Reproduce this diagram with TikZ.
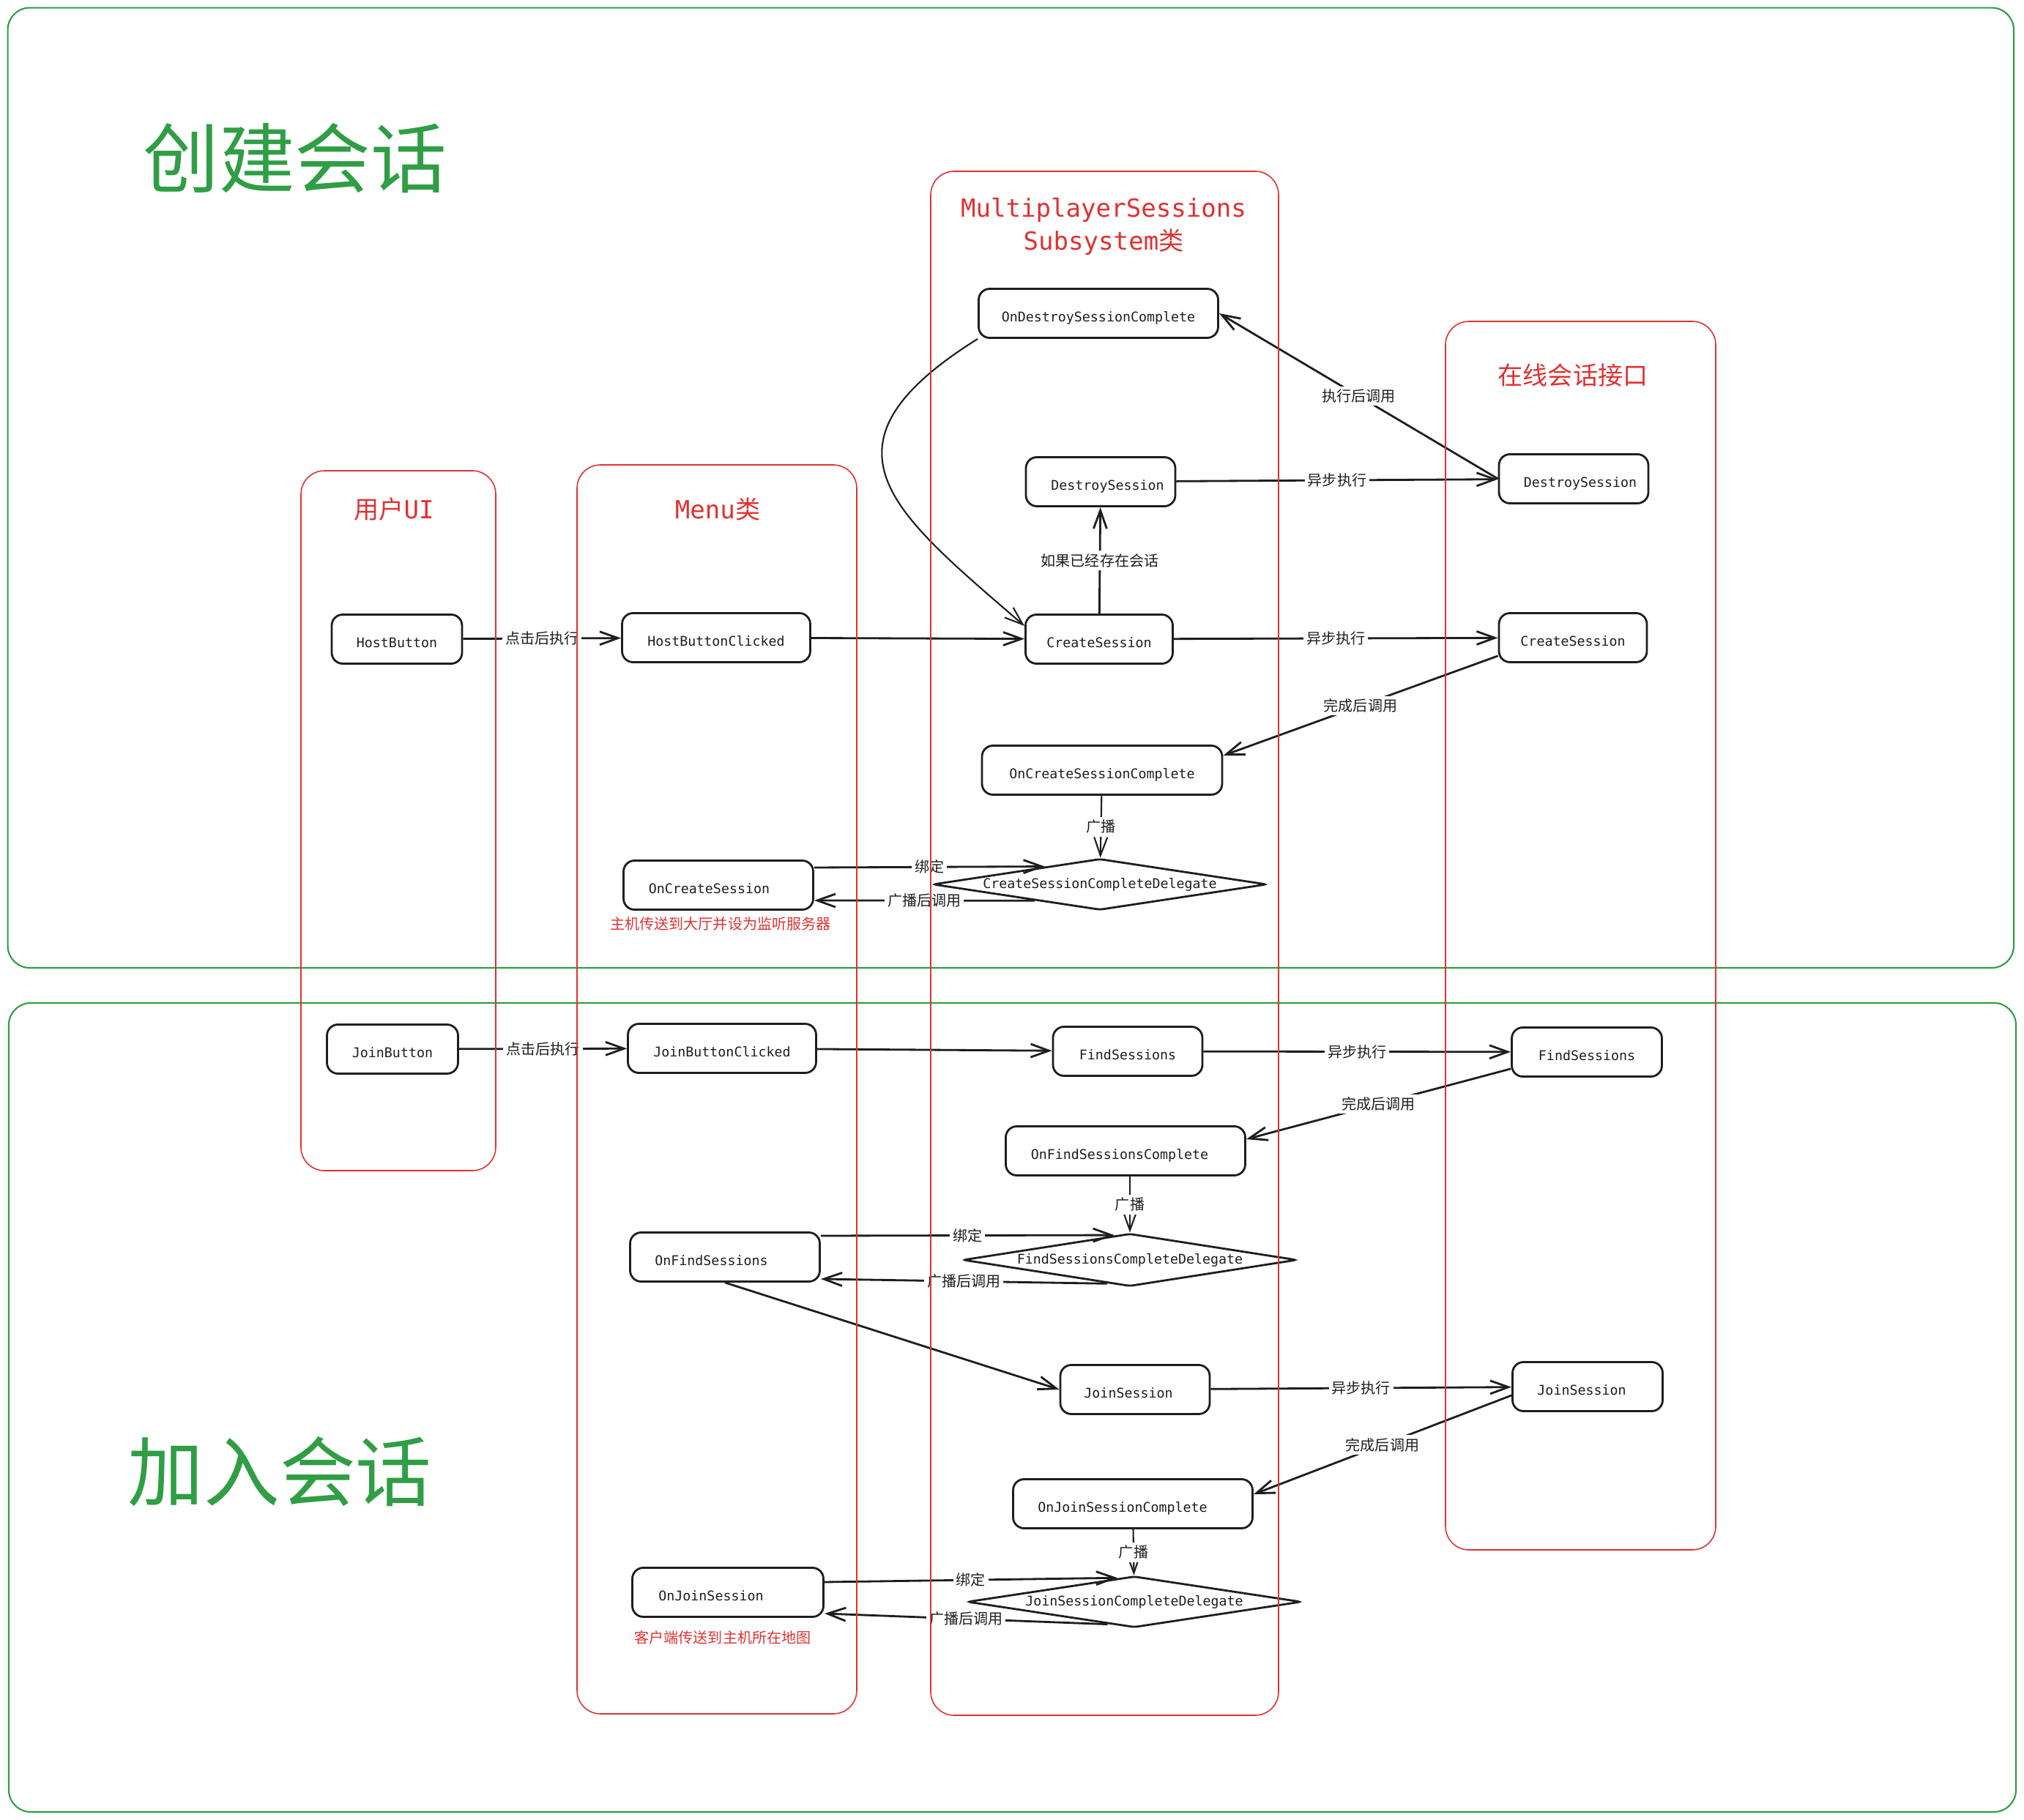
\documentclass[tikz,border=0pt]{standalone}
\usepackage{fontspec}
\usetikzlibrary{arrows.meta, shapes.geometric}

\newfontfamily\codefont{DejaVu Sans Mono}
\newfontfamily\cjkfont{Noto Sans CJK SC}

\definecolor{exblack}{HTML}{1E1E1E}
\definecolor{exred}{HTML}{E03131}
\definecolor{exgreen}{HTML}{2F9E44}

\begin{document}
\begin{tikzpicture}[
    >={Straight Barb[length = 2.5mm, width = 1.8mm]},
    box/.style = {draw = exblack, line width = 0.8pt, rounded corners = 1.5mm, minimum height = 0.67cm, text height = 2.6mm, text depth = 0.3mm, text = exblack, font = \codefont\fontsize{5.2}{6}\selectfont},
    nudge/.style = {execute at end node = {\hspace*{#1}}},
    delegate/.style = {draw = exblack, line width = 0.8pt, diamond, aspect = 6.5, inner sep = 0pt, rounded corners = 0.4mm, minimum width = 4.56cm, minimum height = 0.7cm, text = exblack, font = \codefont\fontsize{5.2}{6}\selectfont},
    flow/.style = {->, line width = 0.8pt, draw = exblack},
    lbl/.style = {fill = white, inner sep = 0.4mm, text = exblack, font = \cjkfont\fontsize{5.7}{7}\selectfont},
    notetext/.style = {text = exred, font = \cjkfont\fontsize{5.7}{7}\selectfont},
    lanebox/.style = {draw = exred, line width = 0.45pt, rounded corners = 3.2mm},
    lanetitle/.style = {text = exred, align = center, font = \codefont\fontsize{9.7}{12.8}\selectfont},
    frameline/.style = {draw = exgreen, line width = 0.6pt, rounded corners = 3mm},
    frametitle/.style = {text = exgreen, font = \cjkfont\fontsize{29.5}{35}\selectfont}
  ]
    \useasboundingbox (0, 0) rectangle (27.64, -24.86);

    % the two parts
    \draw[frameline] (0.106, -0.106) rectangle (27.50, -13.22);
    \draw[frameline] (0.12, -13.70) rectangle (27.53, -24.75);
    \node[frametitle] (create title) at (4.03, -2.16) {创建会话};
    \node[frametitle] (join title) at (3.82, -20.10) {加入会话};

    % lane titles
    \node[lanetitle] (ui title) at (5.38, -6.96) {{\cjkfont 用户}UI};
    \node[lanetitle] (menu title) at (9.80, -6.96) {Menu{\cjkfont 类}};
    \node[lanetitle] (subsystem title) at (15.07, -3.10) {MultiplayerSessions \\ Subsystem{\cjkfont 类}};
    \node[lanetitle, font = \cjkfont\fontsize{9.7}{12.8}\selectfont] (online title) at (21.48, -5.13) {在线会话接口};

    % create session
    \node[box, minimum width = 1.78cm] (host button) at (5.42, -8.73) {HostButton};
    \node[box, minimum width = 2.57cm] (host clicked) at (9.78, -8.71) {HostButtonClicked};
    \node[box, minimum width = 2.01cm] (create session) at (15.01, -8.73) {CreateSession};
    \node[box, minimum width = 2.04cm, nudge = -1.9mm] (destroy session) at (15.03, -6.58) {DestroySession};
    \node[box, minimum width = 3.27cm] (on destroy complete) at (15.00, -4.28) {OnDestroySessionComplete};
    \node[box, minimum width = 2.04cm, nudge = -1.8mm] (online destroy) at (21.49, -6.54) {DestroySession};
    \node[box, minimum width = 2.02cm] (online create) at (21.48, -8.71) {CreateSession};
    \node[box, minimum width = 3.28cm] (on create complete) at (15.05, -10.52) {OnCreateSessionComplete};
    \node[delegate] (create delegate) at (15.02, -12.08) {CreateSessionCompleteDelegate};
    \node[box, minimum width = 2.59cm, nudge = 2.5mm] (on create session) at (9.81, -12.09) {OnCreateSession};
    \node[notetext] (host note) at (9.84, -12.62) {主机传送到大厅并设为监听服务器};

    \draw[flow] (host button) -- node[lbl] {点击后执行} (host clicked);
    \draw[flow] (host clicked) -- (create session);
    \draw[flow] (create session) -- node[lbl] {如果已经存在会话} (destroy session);
    \draw[flow] (destroy session) -- node[lbl] {异步执行} (online destroy);
    \draw[flow] (online destroy.west) -- node[lbl] {执行后调用} (on destroy complete.east);
    \draw[flow, line width = 0.6pt] (on destroy complete.south west) .. controls (11.00, -6.10) and (12.20, -7.00) .. ([yshift = -0.17cm]create session.north west);
    \draw[flow] (create session) -- node[lbl] {异步执行} (online create);
    \draw[flow] ([yshift = 0.10cm]online create.south west) -- node[lbl] {完成后调用} ([yshift = -0.15cm]on create complete.north east);
    \draw[flow, line width = 0.6pt] (on create complete) -- node[lbl] {广播} (create delegate);
    \draw[flow] ([yshift = 0.24cm]on create session.east) -- node[lbl] {绑定} (create delegate.162);
    \draw[flow] (create delegate.194) -- node[lbl] {广播后调用} ([yshift = -0.21cm]on create session.east);

    % join session
    \node[box, minimum width = 1.79cm] (join button) at (5.36, -14.33) {JoinButton};
    \node[box, minimum width = 2.57cm] (join clicked) at (9.86, -14.32) {JoinButtonClicked};
    \node[box, minimum width = 2.04cm] (find sessions) at (15.40, -14.36) {FindSessions};
    \node[box, minimum width = 2.05cm] (online find) at (21.67, -14.37) {FindSessions};
    \node[box, minimum width = 3.27cm, nudge = 1.6mm] (on find complete) at (15.37, -15.72) {OnFindSessionsComplete};
    \node[delegate, minimum height = 0.72cm] (find delegate) at (15.43, -17.21) {FindSessionsCompleteDelegate};
    \node[box, minimum width = 2.59cm, nudge = 3.7mm] (on find sessions) at (9.90, -17.17) {OnFindSessions};
    \node[box, minimum width = 2.04cm, nudge = 1.8mm] (join session) at (15.50, -18.98) {JoinSession};
    \node[box, minimum width = 2.05cm, nudge = 1.6mm] (online join) at (21.68, -18.94) {JoinSession};
    \node[box, minimum width = 3.27cm, nudge = 2.8mm] (on join complete) at (15.47, -20.54) {OnJoinSessionComplete};
    \node[delegate] (join delegate) at (15.49, -21.88) {JoinSessionCompleteDelegate};
    \node[box, minimum width = 2.61cm, nudge = 4.6mm] (on join session) at (9.94, -21.75) {OnJoinSession};
    \node[notetext] (client note) at (9.87, -22.37) {客户端传送到主机所在地图};

    \draw[flow] (join button) -- node[lbl] {点击后执行} (join clicked);
    \draw[flow] (join clicked) -- (find sessions);
    \draw[flow] (find sessions) -- node[lbl] {异步执行} (online find);
    \draw[flow] ([yshift = 0.12cm]online find.south west) -- node[lbl] {完成后调用} ([yshift = -0.19cm]on find complete.north east);
    \draw[flow, line width = 0.6pt] (on find complete.south -| find delegate.north) -- node[lbl] {广播} (find delegate.north);
    \draw[flow] ([yshift = 0.29cm]on find sessions.east) -- node[lbl] {绑定} (find delegate.122);
    \draw[flow] (find delegate.-134) -- node[lbl] {广播后调用} ([yshift = -0.30cm]on find sessions.east);
    \draw[flow] (on find sessions.south) -- (join session.west);
    \draw[flow] (join session) -- node[lbl] {异步执行} (online join);
    \draw[flow] ([yshift = -0.12cm]online join.west) -- node[lbl] {完成后调用} ([yshift = -0.22cm]on join complete.north east);
    \draw[flow, line width = 0.6pt] (on join complete) -- node[lbl] {广播} (join delegate);
    \draw[flow] ([yshift = 0.14cm]on join session.east) -- node[lbl] {绑定} (join delegate.125);
    \draw[flow] (join delegate.-140) -- node[lbl] {广播后调用} ([yshift = -0.29cm]on join session.east);

    % lanes, drawn last so they show through the labels
    \draw[lanebox] (4.11, -6.43) rectangle (6.77, -15.99);
    \draw[lanebox] (7.88, -6.35) rectangle (11.70, -23.41);
    \draw[lanebox] (12.71, -2.34) rectangle (17.46, -23.43);
    \draw[lanebox] (19.74, -4.39) rectangle (23.43, -21.17);
  \end{tikzpicture}
\end{document}
